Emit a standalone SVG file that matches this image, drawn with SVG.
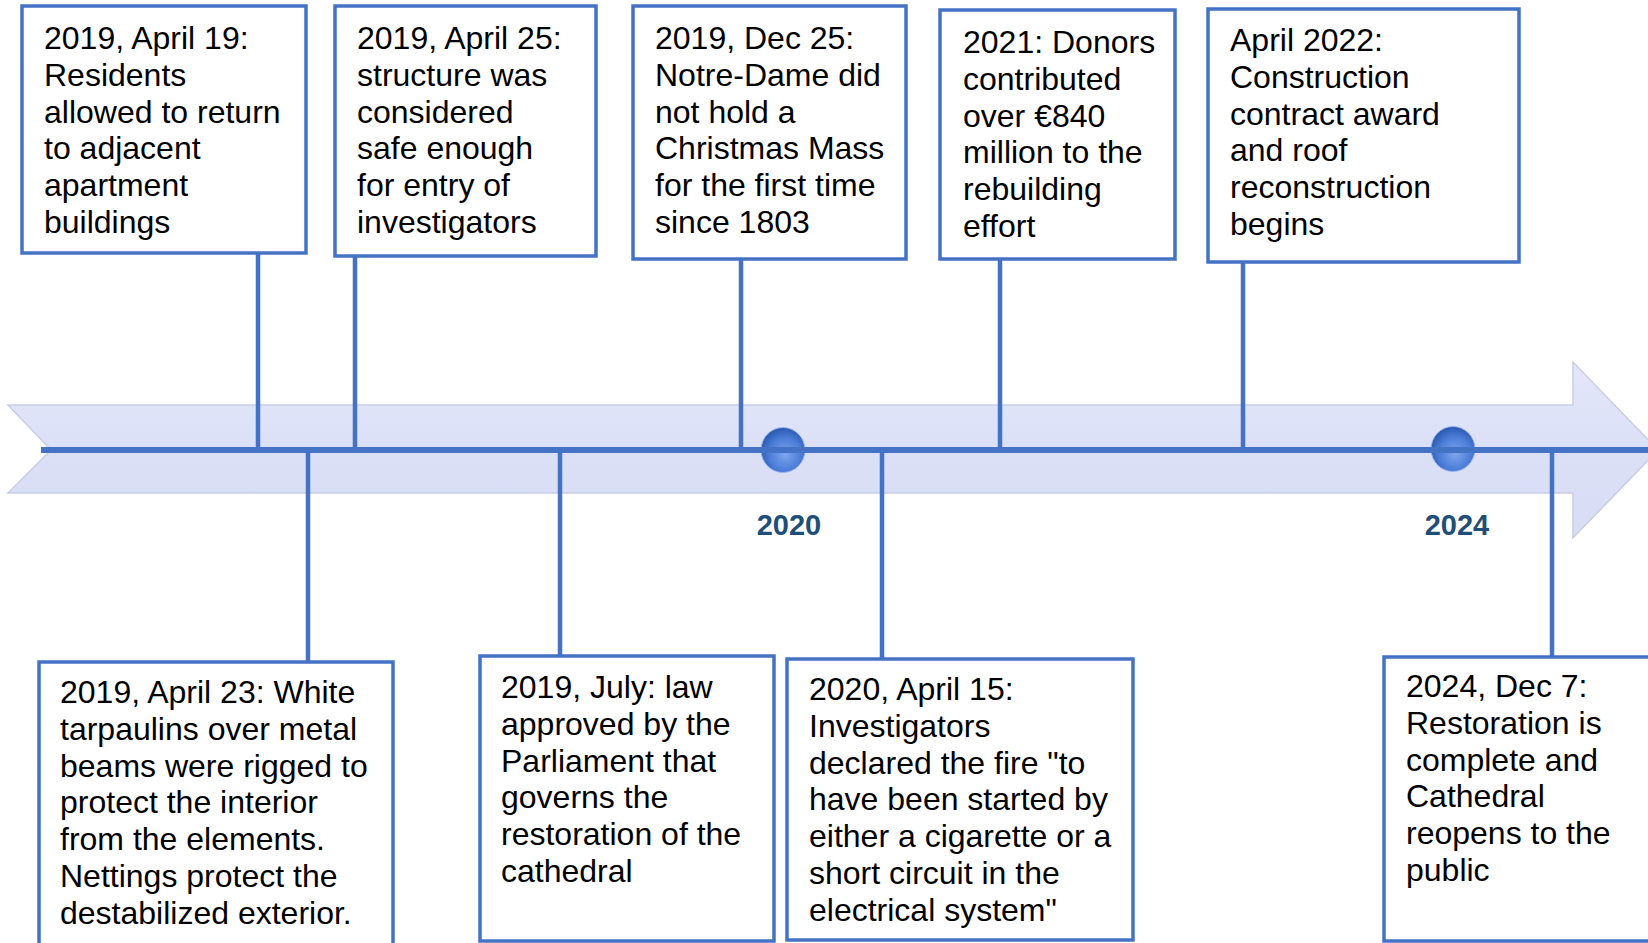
<svg xmlns="http://www.w3.org/2000/svg" width="1648" height="943" viewBox="0 0 1648 943">
<style>
.box{fill:#FFFFFF;stroke:#4472C4;stroke-width:3.5}
.t{font-family:"Liberation Sans",Arial,sans-serif;font-size:32px;fill:#000000}
.yr{font-family:"Liberation Sans",Arial,sans-serif;font-size:29px;font-weight:bold;fill:#1F4E79;text-anchor:middle}
.con{stroke:#4472C4;stroke-width:4.5;fill:none}
.axis{stroke:#4472C4;stroke-width:6;fill:none}
</style>
<defs>
<radialGradient id="globe" cx="0.55" cy="0.6" r="0.6">
<stop offset="0" stop-color="#7EA6EE"/>
<stop offset="0.6" stop-color="#4C7DD8"/>
<stop offset="1" stop-color="#2A58B0"/>
</radialGradient>
<linearGradient id="band" x1="0" y1="0" x2="0" y2="1">
<stop offset="0" stop-color="#E4E7FA"/>
<stop offset="0.5" stop-color="#DCE0F7"/>
<stop offset="1" stop-color="#D8DCF4"/>
</linearGradient>
</defs>
<g id="timeline-band">
<path d="M8,405 H1573 V362 L1658,450 L1573,538 V493 H8 L51,450 Z" fill="url(#band)" stroke="#C9CDE6" stroke-width="1.5"/>
</g>
<g id="globes">
<ellipse cx="783" cy="450" rx="22" ry="22.5" fill="url(#globe)" stroke="#9BB6EC" stroke-width="1"/>
<ellipse cx="1453" cy="449" rx="22" ry="22.5" fill="url(#globe)" stroke="#9BB6EC" stroke-width="1"/>
</g>
<g id="connectors">
<line class="axis" x1="41" y1="450" x2="1648" y2="450"/>
<line class="con" x1="258" y1="253" x2="258" y2="450"/>
<line class="con" x1="355" y1="256" x2="355" y2="450"/>
<line class="con" x1="741" y1="259" x2="741" y2="450"/>
<line class="con" x1="1000" y1="259" x2="1000" y2="450"/>
<line class="con" x1="1243" y1="262" x2="1243" y2="450"/>
<line class="con" x1="308" y1="450" x2="308" y2="662"/>
<line class="con" x1="560" y1="450" x2="560" y2="656"/>
<line class="con" x1="882" y1="450" x2="882" y2="659"/>
<line class="con" x1="1552" y1="450" x2="1552" y2="657"/>
</g>
<g id="year-labels">
<text class="yr" x="789" y="535">2020</text>
<text class="yr" x="1457" y="535">2024</text>
</g>
<g id="n1">
<rect class="box" x="22" y="6" width="284" height="247"/>
<text class="t" x="44" y="49"><tspan x="44">2019, April 19:</tspan><tspan x="44" dy="36.8">Residents</tspan><tspan x="44" dy="36.8">allowed to return</tspan><tspan x="44" dy="36.8">to adjacent</tspan><tspan x="44" dy="36.8">apartment</tspan><tspan x="44" dy="36.8">buildings</tspan></text>
</g>
<g id="n2">
<rect class="box" x="335" y="6" width="261" height="250"/>
<text class="t" x="357" y="49"><tspan x="357">2019, April 25:</tspan><tspan x="357" dy="36.8">structure was</tspan><tspan x="357" dy="36.8">considered</tspan><tspan x="357" dy="36.8">safe enough</tspan><tspan x="357" dy="36.8">for entry of</tspan><tspan x="357" dy="36.8">investigators</tspan></text>
</g>
<g id="n3">
<rect class="box" x="633" y="6" width="273" height="253"/>
<text class="t" x="655" y="49"><tspan x="655">2019, Dec 25:</tspan><tspan x="655" dy="36.8">Notre-Dame did</tspan><tspan x="655" dy="36.8">not hold a</tspan><tspan x="655" dy="36.8">Christmas Mass</tspan><tspan x="655" dy="36.8">for the first time</tspan><tspan x="655" dy="36.8">since 1803</tspan></text>
</g>
<g id="n4">
<rect class="box" x="940" y="10" width="235" height="249"/>
<text class="t" x="963" y="53"><tspan x="963">2021: Donors</tspan><tspan x="963" dy="36.8">contributed</tspan><tspan x="963" dy="36.8">over €840</tspan><tspan x="963" dy="36.8">million to the</tspan><tspan x="963" dy="36.8">rebuilding</tspan><tspan x="963" dy="36.8">effort</tspan></text>
</g>
<g id="n5">
<rect class="box" x="1208" y="9" width="311" height="253"/>
<text class="t" x="1230" y="51"><tspan x="1230">April 2022:</tspan><tspan x="1230" dy="36.8">Construction</tspan><tspan x="1230" dy="36.8">contract award</tspan><tspan x="1230" dy="36.8">and roof</tspan><tspan x="1230" dy="36.8">reconstruction</tspan><tspan x="1230" dy="36.8">begins</tspan></text>
</g>
<g id="n6">
<rect class="box" x="39" y="662" width="354" height="300"/>
<text class="t" x="60" y="703"><tspan x="60">2019, April 23: White</tspan><tspan x="60" dy="36.8">tarpaulins over metal</tspan><tspan x="60" dy="36.8">beams were rigged to</tspan><tspan x="60" dy="36.8">protect the interior</tspan><tspan x="60" dy="36.8">from the elements.</tspan><tspan x="60" dy="36.8">Nettings protect the</tspan><tspan x="60" dy="36.8">destabilized exterior.</tspan></text>
</g>
<g id="n7">
<rect class="box" x="480" y="656" width="294" height="285"/>
<text class="t" x="501" y="698"><tspan x="501">2019, July: law</tspan><tspan x="501" dy="36.8">approved by the</tspan><tspan x="501" dy="36.8">Parliament that</tspan><tspan x="501" dy="36.8">governs the</tspan><tspan x="501" dy="36.8">restoration of the</tspan><tspan x="501" dy="36.8">cathedral</tspan></text>
</g>
<g id="n8">
<rect class="box" x="787" y="659" width="346" height="281"/>
<text class="t" x="809" y="700"><tspan x="809">2020, April 15:</tspan><tspan x="809" dy="36.8">Investigators</tspan><tspan x="809" dy="36.8">declared the fire "to</tspan><tspan x="809" dy="36.8">have been started by</tspan><tspan x="809" dy="36.8">either a cigarette or a</tspan><tspan x="809" dy="36.8">short circuit in the</tspan><tspan x="809" dy="36.8">electrical system"</tspan></text>
</g>
<g id="n9">
<rect class="box" x="1384" y="657" width="300" height="284"/>
<text class="t" x="1406" y="697"><tspan x="1406">2024, Dec 7:</tspan><tspan x="1406" dy="36.8">Restoration is</tspan><tspan x="1406" dy="36.8">complete and</tspan><tspan x="1406" dy="36.8">Cathedral</tspan><tspan x="1406" dy="36.8">reopens to the</tspan><tspan x="1406" dy="36.8">public</tspan></text>
</g>
</svg>
